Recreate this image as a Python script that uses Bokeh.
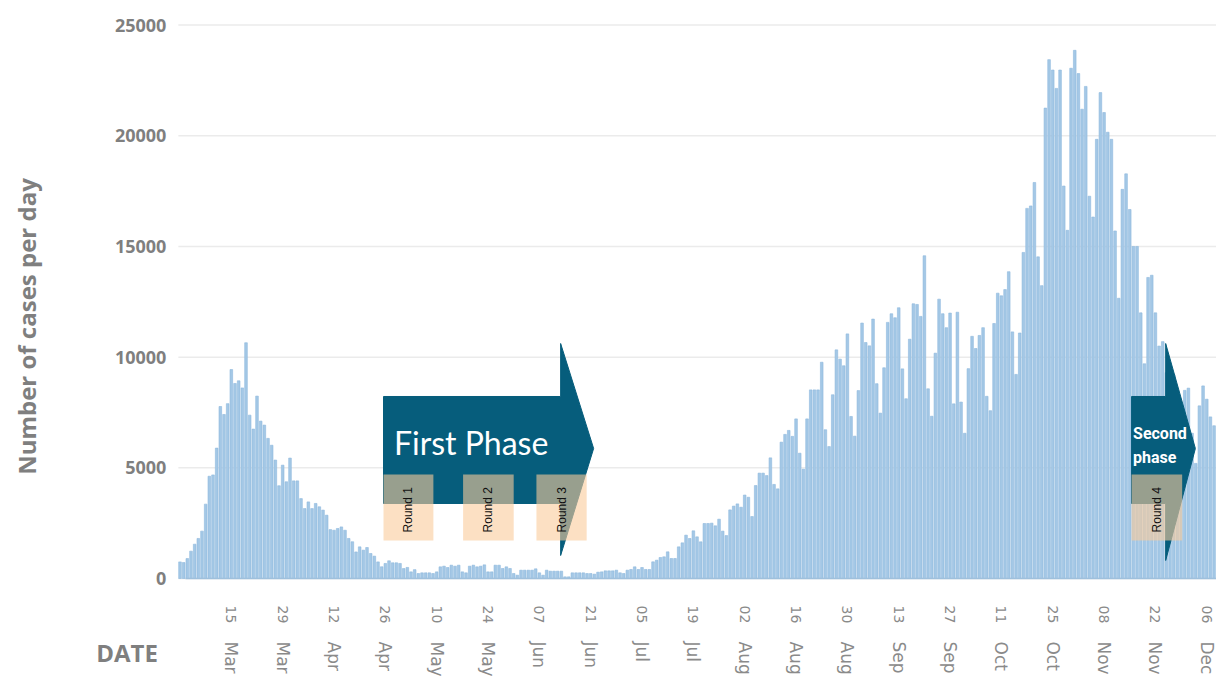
import math
from bokeh.plotting import figure
from bokeh.models import Range1d, FixedTicker, LinearAxis, Label, ColumnDataSource
from bokeh.embed import file_html
from bokeh.resources import INLINE

# ---------------- data ----------------
# daily new cases, one value per day starting 1 March
cases = [
    750, 720, 900, 1235, 1550, 1810, 2140, 3360, 4620, 4680,
    5890, 7770, 7410, 7900, 9440, 8810, 8930, 8610, 10650, 7380,
    6750, 8240, 7110, 6930, 6330, 6020, 5350, 4190, 5120, 4370,
    5440, 4410, 4410, 3610, 3160, 3460, 3160, 3390, 3240, 3090,
    2860, 2210, 2180, 2260, 2330, 2180, 1810, 1660, 1200, 1430,
    1280, 1400, 1130, 1010, 750, 530, 680, 800, 710, 710,
    680, 450, 500, 300, 400, 225,
    256, 256, 256, 225, 300, 527, 557, 497, 602, 557,
    602, 300, 256, 557, 602, 527, 557, 617, 300, 300,
    602, 602, 452, 527, 452, 225, 150, 376, 376, 376,
    376, 437, 256, 150, 376, 331, 331, 331, 331, 75,
    75, 256, 256, 256, 256, 225, 225, 196, 286, 300,
    346, 346, 346, 376, 256, 225, 376, 407, 527, 407,
    497, 407, 407, 753, 828, 949, 979, 1205, 904, 904,
    1430, 1611, 1958, 1807, 2154, 1882, 1657, 2485, 2485,
    2500, 2380, 2680, 2140, 1940, 3100, 3270, 3370, 3220, 3770,
    3670, 2800, 4200, 4760, 4760, 4650, 5450, 4250, 4050, 6160,
    6510, 6690, 6420, 7210, 5660, 4940, 7210, 8520, 8520, 8520,
    9770, 6720, 5960, 8300, 10330, 9910, 9610, 11050, 7320, 6430,
    8490, 11540, 10660, 10510, 11720, 8800, 7470, 9520, 11570, 11960,
    11780, 12230, 9470, 8120, 10810, 12410, 12380, 11840, 14580, 8570,
    7330, 10180, 12620, 11960, 11330, 11990, 7890,
    12030, 7970, 6560, 9480, 10940, 10390, 10980, 11330, 8230, 7580,
    11520, 12890, 12770, 13050, 13860, 11140, 9220, 11090, 14730, 16720,
    16830, 17890, 14530, 13230, 21250, 23440, 22970, 22140, 22970, 17730,
    15730, 23050, 23860, 22810, 21200, 22230, 17270, 16330, 19840, 21950,
    21050, 20160, 19840, 15700, 12660, 17580, 18280, 16670, 15000, 15000,
    12000, 9700, 13600, 13700, 12000, 10500, 10700, 9300, 9200, 9200,
    8500, 7800, 8500, 8600, 6560, 5200, 7800, 8700, 8100, 7300,
    6900,
]
days = list(range(len(cases)))

tick_days = [14, 28, 42, 56, 70, 84, 98, 112, 126, 140,
             154, 168, 182, 196, 210, 224, 238, 252, 266, 280]
tick_day_labels = ["15", "29", "12", "26", "10", "24", "07", "21", "05", "19",
                   "02", "16", "30", "13", "27", "11", "25", "08", "22", "06"]
tick_month_labels = ["Mar", "Mar", "Apr", "Apr", "May", "May", "Jun", "Jun", "Jul", "Jul",
                     "Aug", "Aug", "Aug", "Sep", "Sep", "Oct", "Oct", "Nov", "Nov", "Dec"]
y_ticks = [0, 5000, 10000, 15000, 20000, 25000]

round_names = ["Round 1", "Round 2", "Round 3", "Round 4"]
round_start = [55.5, 77.2, 97.2, 259.5]
round_end = [69.1, 91.0, 110.9, 273.3]

# phase arrows: body start, body end, tip (in days)
phase_names = ["First Phase", "Second phase"]
phase_start = [55.5, 259.5]
phase_body_end = [103.8, 268.8]
phase_tip = [112.8, 276.9]

# ---------------- figure ----------------
# frame covers the whole canvas; axes are pinned at the data origin
X_START, X_END = -48.95, 282.66
Y_START, Y_END = -4472, 26111
AX_X = -0.45

GRAY = "#7f7f7f"
p = figure(width=1216, height=677,
           x_range=Range1d(X_START, X_END), y_range=Range1d(Y_START, Y_END),
           x_axis_location=None, y_axis_location=None,
           min_border=0, min_border_left=0, min_border_right=0,
           min_border_top=0, min_border_bottom=0,
           output_backend="svg", toolbar_location=None)
p.outline_line_color = None
p.background_fill_color = "white"
p.grid.visible = False

# horizontal grid lines, starting at the value axis
p.segment(x0=[AX_X] * len(y_ticks), x1=[X_END] * len(y_ticks), y0=y_ticks, y1=y_ticks,
          line_color="#ebebeb", line_width=1.5)

yax = LinearAxis(ticker=FixedTicker(ticks=y_ticks), fixed_location=AX_X)
yax.axis_line_color = None
yax.major_tick_line_color = None
yax.minor_tick_line_color = None
yax.major_label_standoff = 6
yax.major_label_text_font = "Open Sans"
yax.major_label_text_font_style = "bold"
yax.major_label_text_font_size = "18px"
yax.major_label_text_color = GRAY
p.add_layout(yax, "left")

day_axis = LinearAxis(ticker=FixedTicker(ticks=tick_days), fixed_location=0,
                      bounds=(1.5, X_END),
                      major_label_overrides={d: l for d, l in zip(tick_days, tick_day_labels)})
month_axis = LinearAxis(ticker=FixedTicker(ticks=tick_days), fixed_location=0,
                        bounds=(1.5, X_END),
                        major_label_overrides={d: l for d, l in zip(tick_days, tick_month_labels)})
for ax, fs, so in ((day_axis, "14px", 21), (month_axis, "17px", 57)):
    ax.major_label_orientation = -math.pi / 2
    ax.major_tick_line_color = None
    ax.minor_tick_line_color = None
    ax.major_label_standoff = so
    ax.major_label_text_font = "DejaVu Sans"
    ax.major_label_text_font_size = fs
    ax.major_label_text_color = "#8a8a8a"
day_axis.axis_line_color = "#9fc0dc"
day_axis.axis_line_width = 1.5
month_axis.axis_line_color = None
p.add_layout(day_axis, "below")
p.add_layout(month_axis, "below")

src = ColumnDataSource(data=dict(day=days, cases=cases))
p.vbar(x="day", top="cases", bottom=0, width=0.72, source=src,
       fill_color="#a4c8e6", line_color="#8eb9dd", line_width=0.6)

# ---------------- annotations ----------------
BODY_TOP, BODY_BOT = 8222, 3388
HEAD_TOP, HEAD_TIP = 10616, 5873
HEAD_BOT = [1039, 813]
TEAL = "#065d7c"
for i in range(2):
    xs = [phase_start[i], phase_body_end[i], phase_body_end[i], phase_tip[i],
          phase_body_end[i], phase_body_end[i], phase_start[i]]
    ys = [BODY_TOP, BODY_TOP, HEAD_TOP, HEAD_TIP, HEAD_BOT[i], BODY_BOT, BODY_BOT]
    p.patch(xs, ys, fill_color=TEAL, line_color=TEAL, line_width=1)

BOX_TOP, BOX_BOT = 4698, 1717
p.quad(left=round_start, right=round_end, top=BOX_TOP, bottom=BOX_BOT,
       fill_color="#facb9b", fill_alpha=0.6, line_color=None)
for name, a, b in zip(round_names, round_start, round_end):
    p.add_layout(Label(x=(a + b) / 2, y=(BOX_TOP + BOX_BOT) / 2 - 100, text=name,
                       angle=math.pi / 2, text_align="center", text_baseline="middle",
                       text_font="Liberation Sans", text_font_size="12px",
                       text_color="#111111"))

p.add_layout(Label(x=79.4, y=6144, text=phase_names[0], text_align="center",
                   text_baseline="middle", text_font="Lato", text_font_size="32px",
                   text_color="white"))
for txt, yy in zip(phase_names[1].split(" "), [6550, 5466]):
    p.add_layout(Label(x=259.9, y=yy, text=txt,
                       text_align="left", text_baseline="middle", text_font="Roboto",
                       text_font_style="bold", text_font_size="16px", text_color="white"))

p.add_layout(Label(x=-41.86, y=11383, text="Number of cases per day", angle=math.pi / 2,
                   text_align="center", text_baseline="middle", text_font="Open Sans",
                   text_font_style="bold", text_font_size="24px", text_color=GRAY))
p.add_layout(Label(x=-14.45, y=-3343, text="DATE", text_align="center",
                   text_baseline="middle", text_font="Open Sans", text_font_style="bold",
                   text_font_size="24px", text_color=GRAY))

open("out.html", "w").write(file_html(p, INLINE))
